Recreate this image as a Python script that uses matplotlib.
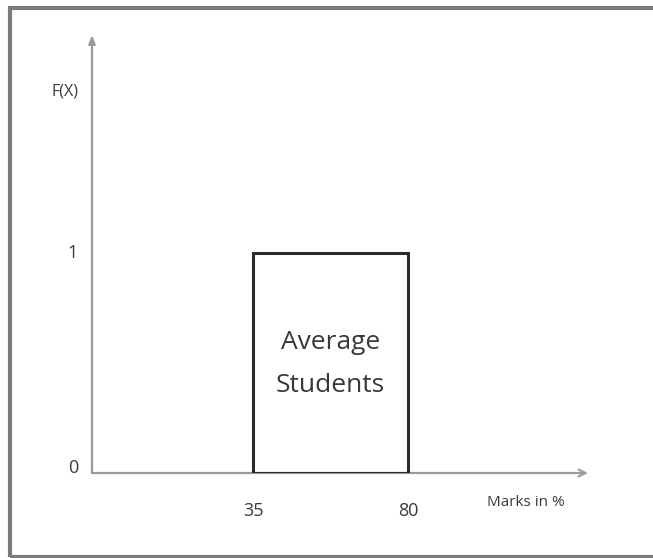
import matplotlib
matplotlib.use("Agg")
import matplotlib.pyplot as plt
from matplotlib.patches import Rectangle

# Data
category_label = ["Average", "Students"]
range_start = 35
range_end = 80
membership = 1
x_ticks = [35, 80]
y_ticks = [0, 1]
x_label = "Marks in %"
y_label = "F(X)"

W, H = 653, 558
fig = plt.figure(figsize=(W / 100, H / 100), dpi=100)
fig.patch.set_facecolor("white")

# outer frame
fig.patches.append(Rectangle((10 / W, 0.002), 1.0, (H - 8) / H - 0.002,
                             transform=fig.transFigure, fill=False,
                             edgecolor="#7a7a7a", lw=3.0))

# axes placed so that data map onto reference pixels
px_per_x = (408 - 253) / (range_end - range_start)
x0 = range_start - (253 - 92) / px_per_x
x1 = range_start + (588 - 253) / px_per_x
px_per_y = (473 - 253) / membership
y1 = (473 - 35) / px_per_y

ax = fig.add_axes([92 / W, 1 - 473 / H, (588 - 92) / W, (473 - 35) / H])
ax.set_xlim(x0, x1)
ax.set_ylim(0, y1)
ax.axis("off")

font = "Open Sans"
txtcol = "#3a3a3a"

# axes arrows
ax.annotate("", xy=(x1, 0), xytext=(x0, 0),
            arrowprops=dict(arrowstyle="->,head_length=0.5,head_width=0.25",
                            color="#9a9a9a", lw=1.6, shrinkA=0, shrinkB=0),
            annotation_clip=False)
ax.annotate("", xy=(x0, y1), xytext=(x0, 0),
            arrowprops=dict(arrowstyle="-|>,head_length=0.5,head_width=0.2",
                            color="#9a9a9a", lw=1.6, shrinkA=0, shrinkB=0),
            annotation_clip=False)

# rectangle (membership function)
ax.add_patch(Rectangle((range_start, 0), range_end - range_start, membership,
                       fill=False, edgecolor="#2b2b2b", lw=2.2, zorder=3))

ax.text((range_start + range_end) / 2, (473 - 364) / px_per_y,
        "\n".join(category_label), ha="center", va="center",
        fontsize=19, family=font, color="#383838", linespacing=1.95)

# tick labels
for v in x_ticks:
    ax.text(v, -(511 - 473) / px_per_y, str(v), ha="center", va="center",
            fontsize=13, family=font, color=txtcol, clip_on=False)
for v in y_ticks:
    ax.text(x0 - (92 - 73) / px_per_x, v if v else 5 / px_per_y, str(v),
            ha="center", va="center", fontsize=13, family=font,
            color=txtcol, clip_on=False)

ax.text(range_start + (526 - 253) / px_per_x, -(503 - 473) / px_per_y, x_label,
        ha="center", va="center", fontsize=11, family=font, color=txtcol,
        clip_on=False)
ax.text(x0 - (92 - 65) / px_per_x, (473 - 92) / px_per_y, y_label,
        ha="center", va="center", fontsize=11.5, family=font, color=txtcol,
        clip_on=False)

fig.savefig("out.png", dpi=100, facecolor="white")
